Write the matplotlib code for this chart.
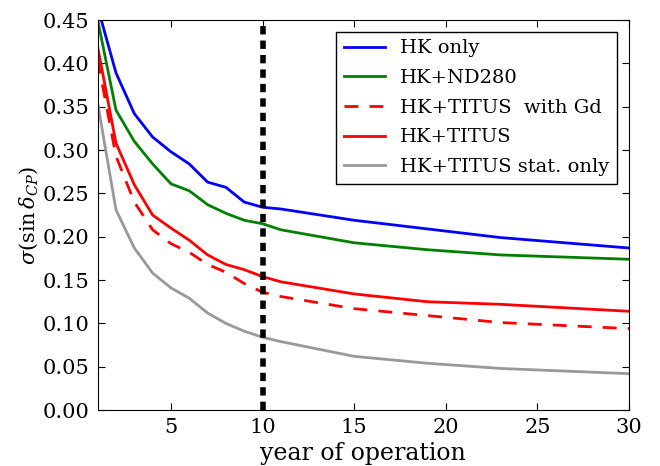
import matplotlib
matplotlib.use("Agg")
import matplotlib.pyplot as plt

years = [1, 2, 3, 4, 5, 6, 7, 8, 9, 10, 11, 15, 19, 23, 30]
hk_only = [0.465, 0.389, 0.342, 0.315, 0.298, 0.284, 0.263, 0.257, 0.240, 0.234, 0.232, 0.219, 0.209, 0.199, 0.187]
hk_nd280 = [0.450, 0.346, 0.310, 0.284, 0.261, 0.253, 0.237, 0.227, 0.219, 0.215, 0.208, 0.193, 0.185, 0.179, 0.174]
hk_titus_gd = [0.404, 0.293, 0.240, 0.208, 0.192, 0.182, 0.168, 0.159, 0.146, 0.136, 0.131, 0.117, 0.109, 0.101, 0.094]
hk_titus = [0.419, 0.308, 0.260, 0.225, 0.210, 0.196, 0.179, 0.168, 0.162, 0.154, 0.148, 0.134, 0.125, 0.122, 0.114]
hk_titus_stat = [0.354, 0.231, 0.187, 0.158, 0.141, 0.129, 0.112, 0.100, 0.091, 0.084, 0.079, 0.062, 0.054, 0.048, 0.042]
vline_year = 10

xticks = [5, 10, 15, 20, 25, 30]
yticks = [0.00, 0.05, 0.10, 0.15, 0.20, 0.25, 0.30, 0.35, 0.40, 0.45]

plt.rcParams['font.family'] = ['DejaVu Serif']
plt.rcParams['mathtext.fontset'] = 'dejavuserif'

fig = plt.figure(figsize=(6.6, 4.66), dpi=100)
ax = fig.add_axes([0.148, 0.12, 0.805, 0.837])

ax.plot(years, hk_only, color='#0000ff', lw=2, label='HK only')
ax.plot(years, hk_nd280, color='#008000', lw=2, label='HK+ND280')
ax.plot(years, hk_titus_gd, color='#ff0000', lw=2, dashes=(5, 4), label='HK+TITUS  with Gd')
ax.plot(years, hk_titus, color='#ff0000', lw=2, label='HK+TITUS')
ax.plot(years, hk_titus_stat, color='#999999', lw=2, label='HK+TITUS stat. only')
ax.axvline(vline_year, color='black', lw=4, dashes=(1.5, 1.1))

ax.set_xlim(1, 30)
ax.set_ylim(0, 0.45)
ax.set_xticks(xticks)
ax.set_yticks(yticks)
ax.set_yticklabels(['%.2f' % v for v in yticks])
ax.tick_params(direction='in', top=True, right=True, length=5, labelsize=15, pad=6)
ax.set_xlabel('year of operation', fontsize=17, labelpad=3)
ax.set_ylabel(r'$\sigma(\sin\delta_{CP})$', fontsize=15, labelpad=2)

leg = ax.legend(loc='upper right', fontsize=14, fancybox=False, framealpha=1,
                edgecolor='black', handlelength=2.1, borderaxespad=0.6,
                labelspacing=0.6, handletextpad=0.8)
leg.get_frame().set_linewidth(1.0)

fig.savefig('out.png', dpi=100, facecolor='white')
